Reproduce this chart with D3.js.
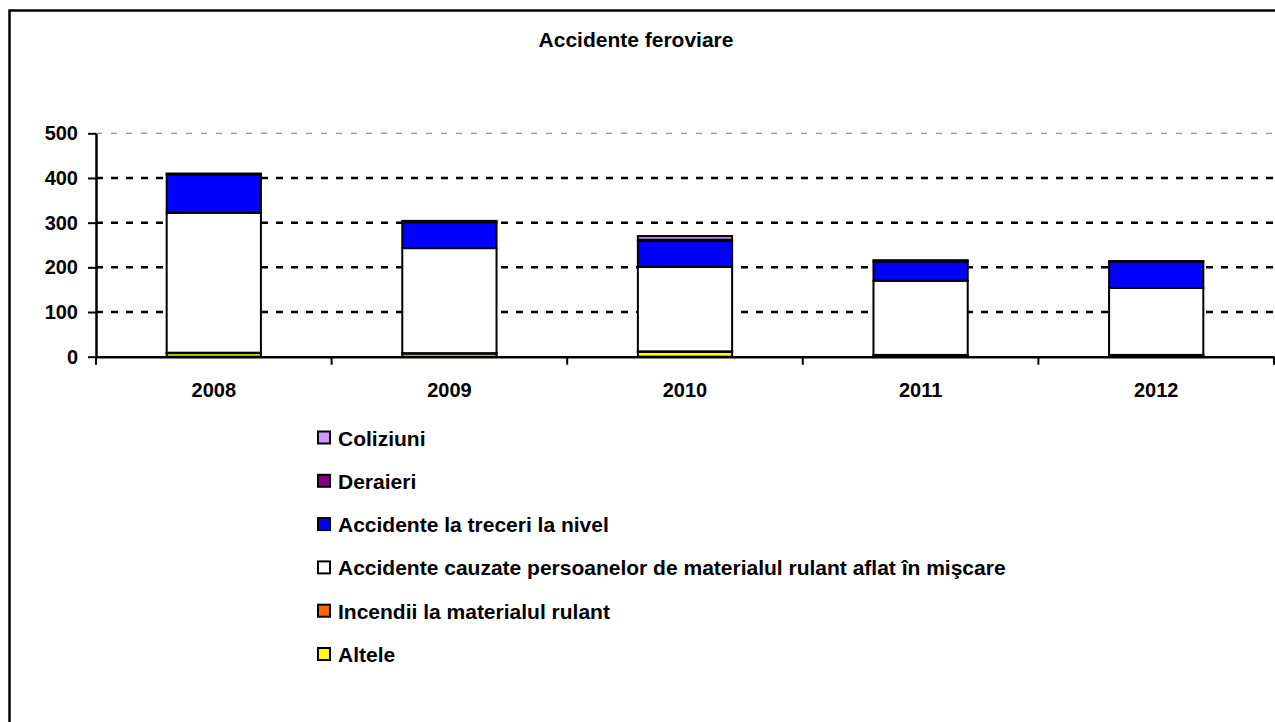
<!DOCTYPE html>
<html>
<head>
<meta charset="utf-8">
<script src="https://cdn.jsdelivr.net/npm/d3@7"></script>
<style>
    body { margin: 0; background: #fff; }
    svg text { font-family: Arial, 'Liberation Sans', sans-serif; font-weight: bold; fill: #000; }
</style>
</head>
<body>
<div id="chart"></div>
<script>
// Data
const years = ['2008', '2009', '2010', '2011', '2012'];
const altele = [8, 7, 11, 3, 3];
const incendii = [1, 1, 1, 1, 1];
const cauzate = [313, 235, 189, 166, 150];
const treceri = [86, 58, 58, 43, 59];
const deraieri = [2, 3, 3, 3, 1];
const coliziuni = [0, 0, 8, 0, 0];
const yTicks = [0, 100, 200, 300, 400, 500];

// Stack order: bottom to top
const seriesNames = [
    'Altele',
    'Incendii la materialul rulant',
    'Accidente cauzate persoanelor de materialul rulant aflat în mişcare',
    'Accidente la treceri la nivel',
    'Deraieri',
    'Coliziuni'
];
const seriesValues = [altele, incendii, cauzate, treceri, deraieri, coliziuni];
const seriesColors = ['#FFFF00', '#FF6600', '#FFFFFF', '#0000FF', '#800080', '#CC99FF'];

document.addEventListener('DOMContentLoaded', drawChart);

function drawChart() {
    const width = 1275;
    const height = 722;
    const plot = { left: 96, right: 1274, top: 133.3, bottom: 356.7 };

    const svg = d3.select('#chart')
        .append('svg')
        .attr('width', width)
        .attr('height', height);

    // Outer frame (runs off the right and bottom edges)
    svg.append('path')
        .attr('d', `M9.5,${height} V10.5 H${width + 5}`)
        .attr('fill', 'none')
        .attr('stroke', '#000')
        .attr('stroke-width', 2.5);

    // Title
    svg.append('text')
        .attr('x', 636)
        .attr('y', 47)
        .attr('text-anchor', 'middle')
        .style('font-size', '21px')
        .text('Accidente feroviare');

    // Scales
    const x = d3.scaleBand()
        .domain(years)
        .range([plot.left, plot.right])
        .padding(0);

    const y = d3.scaleLinear()
        .domain([0, 500])
        .range([plot.bottom, plot.top]);

    // Gridlines
    svg.selectAll('.grid')
        .data(yTicks.filter(d => d > 0))
        .enter()
        .append('line')
        .attr('class', 'grid')
        .attr('x1', plot.left)
        .attr('x2', plot.right)
        .attr('y1', d => y(d))
        .attr('y2', d => y(d))
        .attr('stroke', d => d === 500 ? '#777' : '#000')
        .attr('stroke-width', d => d === 500 ? 1 : 2.5)
        .attr('stroke-dasharray', d => d === 500 ? '6,9' : '7,8');

    // Stacked data
    const rows = years.map((year, i) => {
        const row = { year };
        seriesNames.forEach((name, s) => { row[name] = seriesValues[s][i]; });
        return row;
    });
    const stacked = d3.stack().keys(seriesNames)(rows);

    const barWidth = x.bandwidth() * 0.4;

    const layers = svg.selectAll('.layer')
        .data(stacked)
        .enter()
        .append('g')
        .attr('class', 'layer')
        .attr('fill', (d, i) => seriesColors[i]);

    layers.selectAll('rect')
        .data(d => d.filter(p => p[1] - p[0] > 0))
        .enter()
        .append('rect')
        .attr('x', d => x(d.data.year) + (x.bandwidth() - barWidth) / 2)
        .attr('y', d => y(d[1]))
        .attr('width', barWidth)
        .attr('height', d => y(d[0]) - y(d[1]))
        .attr('stroke', '#000')
        .attr('stroke-width', 2);

    // X axis
    const xAxis = svg.append('g')
        .attr('transform', `translate(0, ${plot.bottom})`)
        .call(d3.axisBottom(x).tickSize(0).tickPadding(26));
    xAxis.select('.domain').attr('stroke-width', 2.5);
    xAxis.selectAll('text').style('font-size', '20px').attr('fill', '#000');

    // Category separator ticks
    svg.selectAll('.xtick')
        .data(years.concat(['end']))
        .enter()
        .append('line')
        .attr('class', 'xtick')
        .attr('x1', (d, i) => i < years.length ? x(d) : plot.right)
        .attr('x2', (d, i) => i < years.length ? x(d) : plot.right)
        .attr('y1', plot.bottom)
        .attr('y2', plot.bottom + 8)
        .attr('stroke', '#000')
        .attr('stroke-width', 2);

    // Y axis
    const yAxis = svg.append('g')
        .attr('transform', `translate(${plot.left}, 0)`)
        .call(d3.axisLeft(y).tickValues(yTicks).tickSize(8).tickSizeOuter(0).tickPadding(10));
    yAxis.select('.domain').attr('stroke-width', 2.5);
    yAxis.selectAll('.tick line').attr('stroke-width', 2);
    yAxis.selectAll('text').style('font-size', '20px').attr('fill', '#000');

    // Legend (top to bottom is reverse of stack order)
    const legendItems = seriesNames.map((name, i) => ({ name, color: seriesColors[i] })).reverse();
    const legend = svg.selectAll('.legend')
        .data(legendItems)
        .enter()
        .append('g')
        .attr('class', 'legend')
        .attr('transform', (d, i) => `translate(318, ${438 + i * 43.3})`);

    legend.append('rect')
        .attr('x', 0)
        .attr('y', -6.5)
        .attr('width', 12)
        .attr('height', 12)
        .attr('fill', d => d.color)
        .attr('stroke', '#000')
        .attr('stroke-width', 2);

    legend.append('text')
        .attr('x', 20)
        .attr('y', 7.5)
        .style('font-size', '21px')
        .text(d => d.name);
}
</script>
</body>
</html>
